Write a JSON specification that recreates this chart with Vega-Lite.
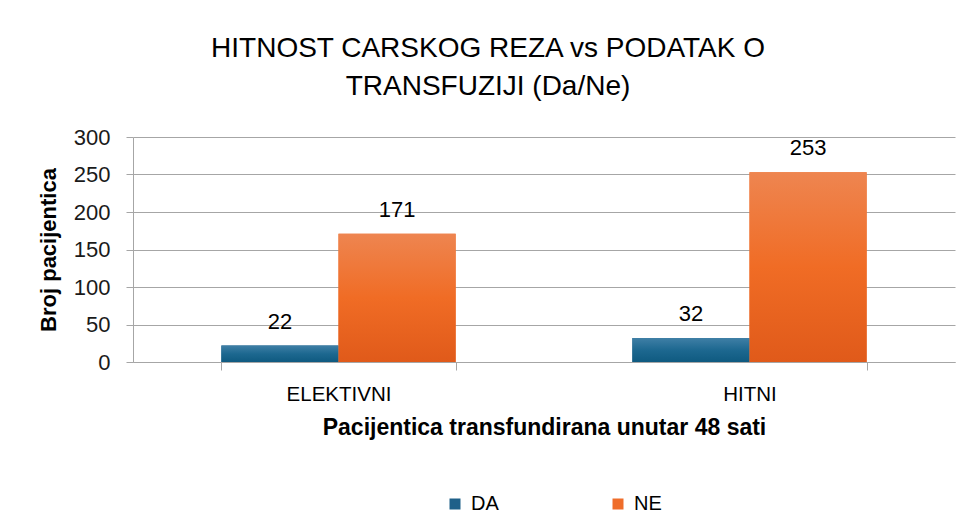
{
  "$schema": "https://vega.github.io/schema/vega-lite/v6.json",
  "width": 822,
  "height": 225,
  "autosize": {"type": "none"},
  "padding": {"left": 133, "top": 137, "right": 12, "bottom": 157},
  "background": "white",
  "config": {
    "view": {"stroke": null},
    "font": "Liberation Sans"
  },
  "data": {
    "values": [
      {"kat": "ELEKTIVNI", "odg": "DA", "n": 22},
      {"kat": "ELEKTIVNI", "odg": "NE", "n": 171},
      {"kat": "HITNI", "odg": "DA", "n": 32},
      {"kat": "HITNI", "odg": "NE", "n": 253}
    ]
  },
  "title": {
    "text": ["HITNOST CARSKOG REZA vs PODATAK O", "TRANSFUZIJI (Da/Ne)"],
    "font": "Liberation Sans",
    "fontSize": 28,
    "fontWeight": "normal",
    "color": "#000000",
    "lineHeight": 38,
    "anchor": "middle",
    "dx": -56,
    "offset": 25
  },
  "encoding": {
    "x": {
      "field": "kat",
      "type": "nominal",
      "sort": ["ELEKTIVNI", "HITNI"],
      "scale": {"paddingInner": 0.43, "paddingOuter": 0.215},
      "title": "Pacijentica transfundirana unutar 48 sati",
      "axis": {
        "labelAngle": 0,
        "labelFont": "Liberation Sans",
        "labelFontSize": 20.5,
        "labelColor": "#000000",
        "labelPadding": 14,
        "domainColor": "#a6a6a6",
        "tickColor": "#a6a6a6",
        "tickBand": "extent",
        "tickSize": 8,
        "titleFont": "Liberation Sans",
        "titleFontSize": 23,
        "titleFontWeight": "bold",
        "titleColor": "#000000",
        "titlePadding": 12
      }
    },
    "xOffset": {"field": "odg", "type": "nominal", "sort": ["DA", "NE"]},
    "y": {
      "field": "n",
      "type": "quantitative",
      "scale": {"domain": [0, 300]},
      "title": "Broj pacijentica",
      "axis": {
        "values": [0, 50, 100, 150, 200, 250, 300],
        "grid": true,
        "gridColor": "#a6a6a6",
        "domainColor": "#a6a6a6",
        "tickColor": "#a6a6a6",
        "tickSize": 7,
        "labelFont": "Liberation Sans",
        "labelFontSize": 22,
        "labelColor": "#1a1a1a",
        "labelPadding": 16,
        "titleFont": "Liberation Sans",
        "titleFontSize": 22,
        "titleFontWeight": "bold",
        "titleColor": "#000000",
        "titlePadding": 13
      }
    }
  },
  "layer": [
    {
      "mark": {"type": "bar"},
      "encoding": {
        "color": {
          "field": "odg",
          "type": "nominal",
          "scale": {"domain": ["DA", "NE"], "range": ["#1f6089", "#ef6d2a"]},
          "legend": {
            "title": null,
            "orient": "none",
            "direction": "horizontal",
            "legendX": 312,
            "legendY": 357,
            "symbolType": "square",
            "symbolSize": 121,
            "symbolStrokeWidth": 0,
            "labelFont": "Liberation Sans",
            "labelFontSize": 20,
            "labelColor": "#000000",
            "columnPadding": 109,
            "labelOffset": 6
          }
        }
      }
    },
    {
      "transform": [{"filter": "datum.odg == 'DA'"}],
      "mark": {
        "type": "bar",
        "fill": {
          "gradient": "linear",
          "x1": 0, "y1": 0, "x2": 0, "y2": 1,
          "stops": [
            {"offset": 0, "color": "#3f7fa6"},
            {"offset": 0.5, "color": "#1d6890"},
            {"offset": 1, "color": "#0f5a80"}
          ]
        }
      }
    },
    {
      "transform": [{"filter": "datum.odg == 'NE'"}],
      "mark": {
        "type": "bar",
        "fill": {
          "gradient": "linear",
          "x1": 0, "y1": 0, "x2": 0, "y2": 1,
          "stops": [
            {"offset": 0, "color": "#ee8550"},
            {"offset": 0.5, "color": "#f06c25"},
            {"offset": 1, "color": "#e05a1a"}
          ]
        }
      }
    },
    {
      "mark": {
        "type": "text",
        "baseline": "alphabetic",
        "dy": -17,
        "font": "Liberation Sans",
        "fontSize": 22,
        "color": "#000000"
      },
      "encoding": {"text": {"field": "n", "type": "quantitative"}}
    }
  ]
}
